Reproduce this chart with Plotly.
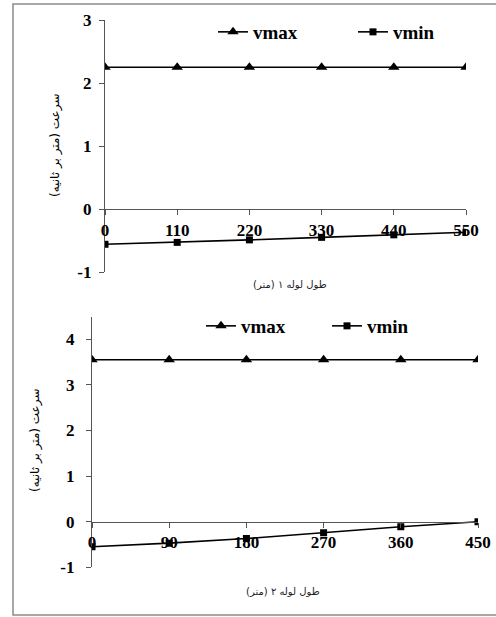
import plotly.graph_objects as go

W, H = 496, 617

# ---- data ----
x1_vals = [0, 110, 220, 330, 440, 550]
vmax1 = [2.25, 2.25, 2.25, 2.25, 2.25, 2.25]
vmin1 = [-0.56, -0.53, -0.49, -0.45, -0.41, -0.37]

x2_vals = [0, 90, 180, 270, 360, 450]
vmax2 = [3.55, 3.55, 3.55, 3.55, 3.55, 3.55]
vmin2 = [-0.55, -0.47, -0.37, -0.24, -0.11, 0.0]

y1_ticks = [-1, 0, 1, 2, 3]
y1_ticktext = ["-1", "0", "1", "2", "3"]
y2_ticks = [-1, 0, 1, 2, 3, 4]
y2_ticktext = ["-1", "0", "1", "2", "3", "4"]

ytitle = "سرعت (متر بر ثانیه)"
xtitle1 = "طول لوله ۱ (متر)"
xtitle2 = "طول لوله ۲ (متر)"

def px(x):
    return x / W

def py(y):
    return 1 - y / H

tick_font = dict(family="Liberation Serif", size=17, color="black", weight="bold")
leg_font = dict(family="Liberation Serif", size=19, color="black", weight="bold")

fig = go.Figure()

line = dict(color="black", width=1.6)
fig.add_trace(go.Scatter(x=x1_vals, y=vmax1, name="vmax", mode="lines+markers",
                         line=line, marker=dict(symbol="triangle-up", size=10, color="black"),
                         xaxis="x", yaxis="y", legend="legend"))
fig.add_trace(go.Scatter(x=x1_vals, y=vmin1, name="vmin", mode="lines+markers",
                         line=line, marker=dict(symbol="square", size=7, color="black"),
                         xaxis="x", yaxis="y", legend="legend"))
fig.add_trace(go.Scatter(x=x2_vals, y=vmax2, name="vmax", mode="lines+markers",
                         line=line, marker=dict(symbol="triangle-up", size=10, color="black"),
                         xaxis="x2", yaxis="y2", legend="legend2"))
fig.add_trace(go.Scatter(x=x2_vals, y=vmin2, name="vmin", mode="lines+markers",
                         line=line, marker=dict(symbol="square", size=7, color="black"),
                         xaxis="x2", yaxis="y2", legend="legend2"))

axcommon = dict(showgrid=False, zeroline=False, showline=True, linecolor="#555",
                linewidth=1.2, ticks="outside", ticklen=5, tickcolor="#555",
                tickwidth=1.2, tickfont=tick_font, automargin=False)

fig.update_layout(
    xaxis=dict(domain=[px(105), px(466)], range=[0, 550], anchor="free",
               position=py(209), tickvals=x1_vals, ticklabelstandoff=0, **axcommon),
    yaxis=dict(domain=[py(272), py(20)], range=[-1, 3], anchor="x",
               tickvals=y1_ticks, ticktext=y1_ticktext, ticklabelstandoff=4, **axcommon),
    xaxis2=dict(domain=[px(92), px(478)], range=[0, 450], anchor="free",
                position=py(521.7), tickvals=x2_vals, ticklabelstandoff=0, **axcommon),
    yaxis2=dict(domain=[py(567.3), py(316.5)], range=[-1, 4.5], anchor="x2",
                tickvals=y2_ticks, ticktext=y2_ticktext, ticklabelstandoff=8, **axcommon),
)

frame_line = dict(color="#8a8a8a", width=1.5)
fig.update_layout(
    width=W, height=H,
    margin=dict(l=0, r=0, t=0, b=0),
    paper_bgcolor="white", plot_bgcolor="white",
    showlegend=True,
    legend=dict(orientation="h", x=px(213), y=py(32), xanchor="left", yanchor="middle",
                font=leg_font, entrywidth=95, entrywidthmode="pixels",
                bgcolor="rgba(0,0,0,0)", tracegroupgap=0),
    legend2=dict(orientation="h", x=px(201), y=py(326), xanchor="left", yanchor="middle",
                 font=leg_font, entrywidth=81, entrywidthmode="pixels",
                 bgcolor="rgba(0,0,0,0)", tracegroupgap=0),
    shapes=[
        dict(type="rect", xref="paper", yref="paper", x0=px(13), x1=px(W + 5),
             y0=py(615), y1=py(4), line=frame_line, layer="above"),
    ],
    annotations=[
        dict(text=ytitle, xref="paper", yref="paper", x=px(55), y=py(146),
             textangle=-90, showarrow=False, xanchor="center", yanchor="middle",
             font=dict(family="DejaVu Sans", size=12, color="black")),
        dict(text=ytitle, xref="paper", yref="paper", x=px(35), y=py(441),
             textangle=-90, showarrow=False, xanchor="center", yanchor="middle",
             font=dict(family="DejaVu Sans", size=12, color="black")),
        dict(text=xtitle1, xref="paper", yref="paper", x=px(290), y=py(284),
             showarrow=False, xanchor="center", yanchor="middle",
             font=dict(family="DejaVu Sans", size=10, color="#222")),
        dict(text=xtitle2, xref="paper", yref="paper", x=px(283), y=py(591),
             showarrow=False, xanchor="center", yanchor="middle",
             font=dict(family="DejaVu Sans", size=10, color="#222")),
    ],
)

fig.write_html(
    "out.html",
    config={"displayModeBar": False},
    post_script="document.body.style.margin='0';document.body.style.overflow='hidden';window.scrollTo(0,0);",
)
